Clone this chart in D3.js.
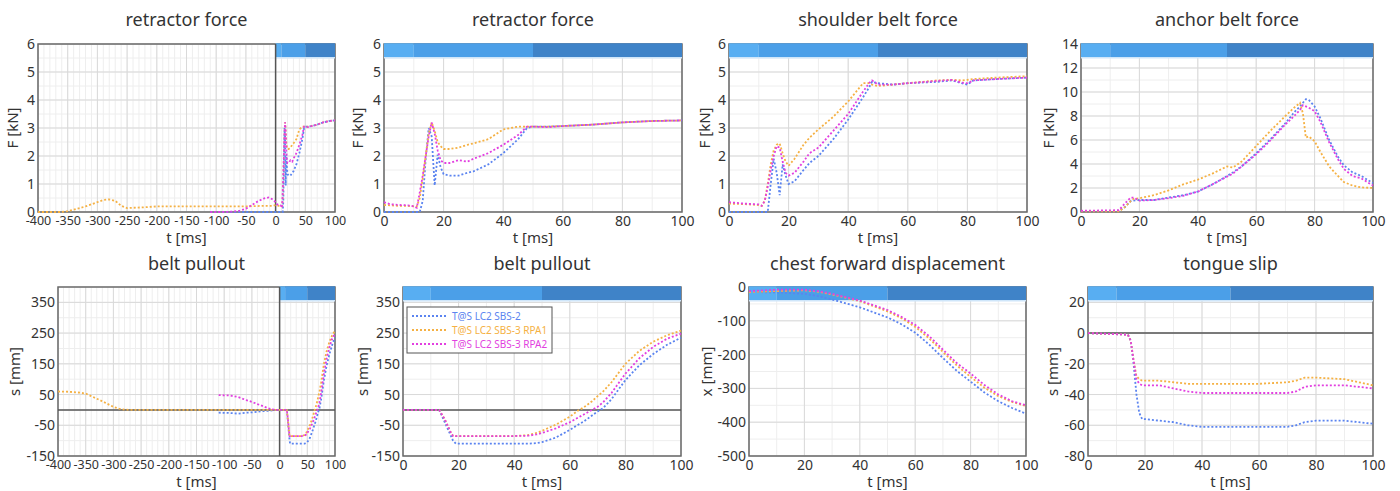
<!DOCTYPE html>
<html>
<head>
<meta charset="utf-8">
<script src="https://cdn.jsdelivr.net/npm/d3@7"></script>
<style>
  body { margin: 0; background: #fff; }
  svg { font-family: "Noto Sans", "Open Sans", sans-serif; }
</style>
</head>
<body>
<div id="chart"></div>
<script>
// series names, in legend order
const seriesNames = ["T@S LC2 SBS-2", "T@S LC2 SBS-3 RPA1", "T@S LC2 SBS-3 RPA2"];
const seriesColors = ["#5b84f0", "#f5b144", "#e23fe0"];

// retractor force [kN]
const tRetractor = [0, 2, 5, 8, 10, 11, 12, 13, 14, 15, 16, 17, 18, 19, 20, 22, 25, 28, 30, 35, 40, 45, 48, 50, 55, 60, 70, 80, 90, 100];
const retractorSBS2 = [0, 0, 0, 0, 0, 0, 0, 0.4, 1.9, 3.0, 2.7, 0.95, 2.05, 1.6, 1.35, 1.3, 1.3, 1.4, 1.45, 1.7, 2.1, 2.6, 3.0, 3.05, 3.05, 3.07, 3.12, 3.2, 3.25, 3.27];
const retractorRPA1 = [0.25, 0.24, 0.22, 0.22, 0.2, 0.2, 0.5, 1.2, 2.0, 2.8, 3.2, 2.9, 2.5, 2.35, 2.25, 2.25, 2.3, 2.4, 2.45, 2.6, 2.95, 3.05, 3.05, 3.05, 3.05, 3.07, 3.12, 3.2, 3.25, 3.27];
const retractorRPA2 = [0.35, 0.28, 0.25, 0.24, 0.2, 0.15, 0.7, 1.3, 2.0, 2.7, 3.2, 2.8, 2.2, 1.85, 1.75, 1.75, 1.85, 1.8, 1.9, 2.1, 2.4, 2.75, 3.05, 3.05, 3.03, 3.07, 3.12, 3.2, 3.25, 3.27];

// shoulder belt force [kN]
const tShoulder = [0, 5, 10, 11, 12, 13, 14, 15, 16, 17, 18, 19, 20, 22, 25, 27, 30, 35, 40, 45, 47, 48, 50, 55, 60, 70, 75, 78, 80, 82, 90, 100];
const shoulderSBS2 = [0, 0, 0, 0, 0, 0, 1.0, 1.9, 1.4, 0.6, 1.7, 1.3, 1.0, 1.1, 1.5, 1.75, 2.0, 2.6, 3.3, 4.1, 4.45, 4.65, 4.6, 4.55, 4.6, 4.65, 4.7, 4.6, 4.55, 4.7, 4.75, 4.8];
const shoulderRPA1 = [0.3, 0.28, 0.25, 0.22, 0.4, 1.0, 1.7, 2.2, 2.4, 2.45, 2.1, 1.8, 1.65, 1.9, 2.4, 2.65, 2.95, 3.4, 3.95, 4.6, 4.6, 4.55, 4.5, 4.55, 4.6, 4.7, 4.72, 4.7, 4.72, 4.75, 4.8, 4.85];
const shoulderRPA2 = [0.35, 0.3, 0.27, 0.22, 0.4, 0.9, 1.5, 2.0, 2.35, 2.3, 1.8, 1.4, 1.3, 1.4, 1.8, 2.1, 2.3, 2.9, 3.5, 4.3, 4.6, 4.7, 4.55, 4.55, 4.6, 4.68, 4.72, 4.62, 4.6, 4.7, 4.75, 4.8];

// anchor belt force [kN]
const tAnchor = [0, 13, 15, 17, 18, 20, 25, 30, 35, 40, 45, 50, 52, 55, 60, 65, 70, 73, 75, 76, 77, 78, 80, 82, 85, 88, 90, 93, 96, 100];
const anchorSBS2 = [0.1, 0.1, 0.4, 0.9, 0.95, 1.0, 1.0, 1.2, 1.4, 1.7, 2.3, 3.0, 3.3, 3.8, 4.9, 6.1, 7.4, 8.3, 8.8, 9.1, 9.4, 9.35, 8.8, 7.8, 6.0, 4.6, 3.9, 3.3, 3.0, 2.4];
const anchorRPA1 = [0.05, 0.05, 0.4, 0.9, 1.1, 1.15, 1.4, 1.8, 2.3, 2.7, 3.2, 3.8, 3.7, 4.2, 5.5, 6.8, 8.0, 8.7, 9.1, 8.2, 6.2, 6.3, 5.9, 5.0, 3.8, 3.0, 2.5, 2.2, 2.05, 2.0];
const anchorRPA2 = [0.1, 0.15, 0.7, 1.2, 1.2, 0.95, 1.0, 1.15, 1.35, 1.7, 2.3, 2.95, 3.2, 3.8, 4.8, 6.0, 7.3, 8.0, 8.5, 8.9, 8.8, 8.7, 8.4, 7.5, 5.8, 4.4, 3.6, 3.0, 2.8, 2.2];

// belt pullout [mm]
const tPullout = [0, 13, 15, 17, 18, 19, 20, 30, 40, 45, 48, 50, 55, 60, 63, 65, 68, 70, 72, 75, 80, 85, 90, 95, 100];
const pulloutSBS2 = [0, 0, -40, -80, -100, -110, -110, -110, -110, -110, -108, -105, -90, -65, -48, -38, -18, -5, 6, 35, 97, 145, 182, 212, 235];
const pulloutRPA1 = [0, 0, -30, -70, -85, -85, -85, -85, -85, -82, -75, -68, -48, -22, -2, 8, 28, 45, 60, 90, 150, 192, 222, 243, 258];
const pulloutRPA2 = [0, 0, -30, -70, -85, -85, -85, -85, -85, -84, -80, -75, -60, -40, -25, -15, 0, 10, 25, 55, 118, 168, 205, 232, 248];

// pre-crash recordings (left-hand overview panels)
const tPreLong = [-400, -380, -360, -350, -340, -320, -300, -290, -280, -270, -260, -250, -220, -200, -150, -100, -50, -20, -5];
const tPreShort = [-110, -90, -75, -60, -50, -40, -30, -20, -12, -5];
const preRetractorSBS2 = [0, 0, 0, 0, 0, 0, 0, 0, 0, 0];
const preRetractorRPA1 = [0, 0, 0, 0.03, 0.08, 0.2, 0.35, 0.43, 0.45, 0.4, 0.22, 0.14, 0.17, 0.2, 0.2, 0.2, 0.2, 0.22, 0.22];
const preRetractorRPA2 = [0, 0, 0.01, 0.05, 0.12, 0.25, 0.38, 0.48, 0.52, 0.45];
const prePulloutSBS2 = [-9, -10, -12, -9, -8, -6, -4, -3, -1, 0];
const prePulloutRPA1 = [60, 59, 56, 53, 45, 28, 10, 4, 1, 0, 0, 0, 0, 0, 0, 0, 0, 0, 0];
const prePulloutRPA2 = [48, 47, 42, 32, 26, 19, 12, 5, 2, 0];

// chest forward displacement [mm]
const tChest = [0, 10, 20, 25, 30, 40, 50, 55, 60, 65, 70, 75, 80, 85, 90, 95, 100];
const chestSBS2 = [-15, -16, -20, -27, -37, -60, -90, -110, -135, -170, -210, -248, -280, -312, -338, -358, -375];
const chestRPA1 = [-15, -12, -10, -14, -22, -42, -72, -92, -118, -152, -192, -232, -266, -298, -323, -340, -352];
const chestRPA2 = [-12, -8, -8, -12, -20, -40, -68, -88, -112, -145, -185, -225, -256, -290, -318, -338, -350];

// tongue slip [mm]
const tTongue = [0, 14, 15, 16, 17, 18, 19, 20, 25, 30, 35, 40, 50, 60, 70, 73, 76, 80, 90, 95, 100];
const tongueSBS2 = [0, -1, -5, -20, -40, -52, -56, -56, -57, -58, -60, -61, -61, -61, -61, -60, -58, -57, -57, -58, -59];
const tongueRPA1 = [0, -1, -5, -18, -28, -30, -31, -31, -31, -32, -33, -33, -33, -33, -32, -31, -29, -29, -30, -32, -34];
const tongueRPA2 = [0, -1, -5, -18, -30, -33, -34, -34, -34, -36, -38, -39, -39, -39, -39, -38, -35, -34, -34, -35, -36];

// phase band along the top of each plot [ms]
const phaseEdges = [0, 10, 50, 100];
const phaseColors = ["#58aef2", "#4b9fe8", "#3f83c8"];

// build lookup of series per quantity
const zip = (t, v) => t.map((d, i) => ({t: d, v: v[i]}));
const curves = {
    retractor: [zip(tRetractor, retractorSBS2), zip(tRetractor, retractorRPA1), zip(tRetractor, retractorRPA2)],
    retractorFull: [
        zip(tPreShort, preRetractorSBS2).concat(zip(tRetractor, retractorSBS2)),
        zip(tPreLong, preRetractorRPA1).concat(zip(tRetractor, retractorRPA1)),
        zip(tPreShort, preRetractorRPA2).concat(zip(tRetractor, retractorRPA2))],
    shoulder: [zip(tShoulder, shoulderSBS2), zip(tShoulder, shoulderRPA1), zip(tShoulder, shoulderRPA2)],
    anchor: [zip(tAnchor, anchorSBS2), zip(tAnchor, anchorRPA1), zip(tAnchor, anchorRPA2)],
    pullout: [zip(tPullout, pulloutSBS2), zip(tPullout, pulloutRPA1), zip(tPullout, pulloutRPA2)],
    pulloutFull: [
        zip(tPreShort, prePulloutSBS2).concat(zip(tPullout, pulloutSBS2)),
        zip(tPreLong, prePulloutRPA1).concat(zip(tPullout, pulloutRPA1)),
        zip(tPreShort, prePulloutRPA2).concat(zip(tPullout, pulloutRPA2))],
    chest: [zip(tChest, chestSBS2), zip(tChest, chestRPA1), zip(tChest, chestRPA2)],
    tongue: [zip(tTongue, tongueSBS2), zip(tTongue, tongueRPA1), zip(tTongue, tongueRPA2)]
};

const rows = [
    {top: 44, bottom: 212, titleY: 26, xLabelY: 243},
    {top: 287, bottom: 456, titleY: 270, xLabelY: 487}
];

const longX = {domain: [-400, 100], ticks: d3.range(-400, 101, 50), minor: 10, font: 12.5};
const shortX = {domain: [0, 100], ticks: d3.range(0, 101, 20), minor: 10, font: 14};

const panels = [
    {row: 0, left: 38, right: 335, yLabelX: 13, title: "retractor force", key: "retractorFull", x: longX,
     yDomain: [0, 6], yTicks: d3.range(0, 7, 1), yMinor: 0.5, yLabel: "F [kN]", zeroX: true},
    {row: 0, left: 384, right: 682, yLabelX: 358, title: "retractor force", key: "retractor", x: shortX,
     yDomain: [0, 6], yTicks: d3.range(0, 7, 1), yMinor: 0.5, yLabel: "F [kN]"},
    {row: 0, left: 729, right: 1027, yLabelX: 705, title: "shoulder belt force", key: "shoulder", x: shortX,
     yDomain: [0, 6], yTicks: d3.range(0, 7, 1), yMinor: 0.5, yLabel: "F [kN]"},
    {row: 0, left: 1081, right: 1373, yLabelX: 1049, title: "anchor belt force", key: "anchor", x: shortX,
     yDomain: [0, 14], yTicks: d3.range(0, 15, 2), yMinor: 1, yLabel: "F [kN]"},
    {row: 1, left: 58, right: 335, yLabelX: 15, title: "belt pullout", key: "pulloutFull", x: longX,
     yDomain: [-150, 400], yTicks: d3.range(-150, 351, 100), yMinor: 50, yLabel: "s [mm]", zeroX: true, zeroY: true},
    {row: 1, left: 403, right: 681, yLabelX: 363, title: "belt pullout", key: "pullout", x: shortX,
     yDomain: [-150, 400], yTicks: d3.range(-150, 351, 100), yMinor: 50, yLabel: "s [mm]", zeroY: true, legend: true},
    {row: 1, left: 749, right: 1026, yLabelX: 707, title: "chest forward displacement", key: "chest", x: shortX,
     yDomain: [-500, 0], yTicks: d3.range(-500, 1, 100), yMinor: 50, yLabel: "x [mm]"},
    {row: 1, left: 1088, right: 1373, yLabelX: 1053, title: "tongue slip", key: "tongue", x: shortX,
     yDomain: [-80, 30], yTicks: d3.range(-80, 21, 20), yMinor: 10, yLabel: "s [mm]", zeroY: true}
];

const svg = d3.select("#chart")
    .append("svg")
    .attr("width", 1400)
    .attr("height", 491)
    .style("background", "#fff");

const bandHeight = 13;
// plain hyphen minus, no decimals
const fmt = (d) => String(d);

panels.forEach((p) => {
    const r = rows[p.row];
    const xScale = d3.scaleLinear().domain(p.x.domain).range([p.left, p.right]);
    const yScale = d3.scaleLinear().domain(p.yDomain).range([r.bottom, r.top]);
    const g = svg.append("g");

    // minor grid, then major grid
    const xMinor = d3.range(p.x.domain[0], p.x.domain[1] + 0.001, p.x.minor);
    const yMinor = d3.range(p.yDomain[0], p.yDomain[1] + 0.001, p.yMinor);
    g.append("g").selectAll("line").data(xMinor).join("line")
        .attr("x1", (d) => xScale(d)).attr("x2", (d) => xScale(d))
        .attr("y1", r.top).attr("y2", r.bottom)
        .attr("stroke", "#eeeeee").attr("stroke-width", 1);
    g.append("g").selectAll("line").data(yMinor).join("line")
        .attr("x1", p.left).attr("x2", p.right)
        .attr("y1", (d) => yScale(d)).attr("y2", (d) => yScale(d))
        .attr("stroke", "#eeeeee").attr("stroke-width", 1);
    g.append("g").selectAll("line").data(p.x.ticks).join("line")
        .attr("x1", (d) => xScale(d)).attr("x2", (d) => xScale(d))
        .attr("y1", r.top).attr("y2", r.bottom)
        .attr("stroke", "#d9d9d9").attr("stroke-width", 1);
    g.append("g").selectAll("line").data(p.yTicks).join("line")
        .attr("x1", p.left).attr("x2", p.right)
        .attr("y1", (d) => yScale(d)).attr("y2", (d) => yScale(d))
        .attr("stroke", "#d9d9d9").attr("stroke-width", 1);

    // frame
    g.append("rect")
        .attr("x", p.left).attr("y", r.top)
        .attr("width", p.right - p.left).attr("height", r.bottom - r.top)
        .attr("fill", "none").attr("stroke", "#6a6a6a").attr("stroke-width", 1.5);

    // phase band
    const phases = phaseColors.map((c, i) => ({x0: phaseEdges[i], x1: phaseEdges[i + 1], c: c}));
    g.append("rect")
        .attr("x", xScale(0)).attr("y", r.top + bandHeight)
        .attr("width", xScale(100) - xScale(0)).attr("height", 1.5)
        .attr("fill", "#cfe6fa");
    g.append("g").selectAll("rect").data(phases).join("rect")
        .attr("x", (d) => xScale(d.x0)).attr("y", r.top - 0.75)
        .attr("width", (d) => xScale(d.x1) - xScale(d.x0))
        .attr("height", bandHeight + 0.75)
        .attr("fill", (d) => d.c);

    // zero lines
    if (p.zeroX) {
        g.append("line")
            .attr("x1", xScale(0)).attr("x2", xScale(0))
            .attr("y1", r.top).attr("y2", r.bottom)
            .attr("stroke", "#555").attr("stroke-width", 1.5);
    }
    if (p.zeroY) {
        g.append("line")
            .attr("x1", p.left).attr("x2", p.right)
            .attr("y1", yScale(0)).attr("y2", yScale(0))
            .attr("stroke", "#555").attr("stroke-width", 1.5);
    }

    // curves
    const line = d3.line().x((d) => xScale(d.t)).y((d) => yScale(d.v));
    g.append("g").selectAll("path").data(curves[p.key]).join("path")
        .attr("d", line)
        .attr("fill", "none")
        .attr("stroke", (d, i) => seriesColors[i])
        .attr("stroke-width", 1.8)
        .attr("stroke-dasharray", "2 2");

    // axes (labels only)
    const xAxis = g.append("g")
        .attr("transform", `translate(0,${r.bottom})`)
        .call(d3.axisBottom(xScale).tickValues(p.x.ticks).tickFormat(fmt).tickSize(0).tickPadding(4));
    const yAxis = g.append("g")
        .attr("transform", `translate(${p.left},0)`)
        .call(d3.axisLeft(yScale).tickValues(p.yTicks).tickFormat(fmt).tickSize(0).tickPadding(3));
    xAxis.select(".domain").remove();
    yAxis.select(".domain").remove();
    xAxis.selectAll("text")
        .style("font-size", p.x.font + "px")
        .style("font-family", "'Noto Sans', sans-serif")
        .attr("fill", "#333");
    yAxis.selectAll("text")
        .style("font-size", "14px")
        .style("font-family", "'Noto Sans', sans-serif")
        .attr("fill", "#333");

    // titles and labels
    g.append("text")
        .attr("x", (p.left + p.right) / 2).attr("y", r.titleY)
        .attr("text-anchor", "middle")
        .style("font-size", "18px")
        .attr("fill", "#333")
        .text(p.title);
    g.append("text")
        .attr("x", (p.left + p.right) / 2).attr("y", r.xLabelY)
        .attr("text-anchor", "middle")
        .style("font-size", "15px")
        .attr("fill", "#333")
        .text("t [ms]");
    g.append("text")
        .attr("transform", `translate(${p.yLabelX},${(r.top + r.bottom) / 2}) rotate(-90)`)
        .attr("text-anchor", "middle")
        .attr("dy", "0.35em")
        .style("font-size", "15px")
        .attr("fill", "#333")
        .text(p.yLabel);

    // legend
    if (p.legend) {
        const lg = g.append("g").attr("transform", `translate(${p.left + 4},${r.top + 20})`);
        lg.append("rect")
            .attr("width", 145).attr("height", 46)
            .attr("fill", "#fff").attr("stroke", "#555").attr("stroke-width", 1);
        const items = lg.selectAll(".item").data(seriesNames).join("g")
            .attr("transform", (d, i) => `translate(0,${9 + i * 14})`);
        items.append("line")
            .attr("x1", 5).attr("x2", 40)
            .attr("stroke", (d, i) => seriesColors[i])
            .attr("stroke-width", 1.8)
            .attr("stroke-dasharray", "2 2");
        items.append("text")
            .attr("x", 45).attr("dy", "0.35em")
            .style("font-size", "10px")
            .attr("fill", (d, i) => seriesColors[i])
            .text((d) => d);
    }
});
</script>
</body>
</html>
